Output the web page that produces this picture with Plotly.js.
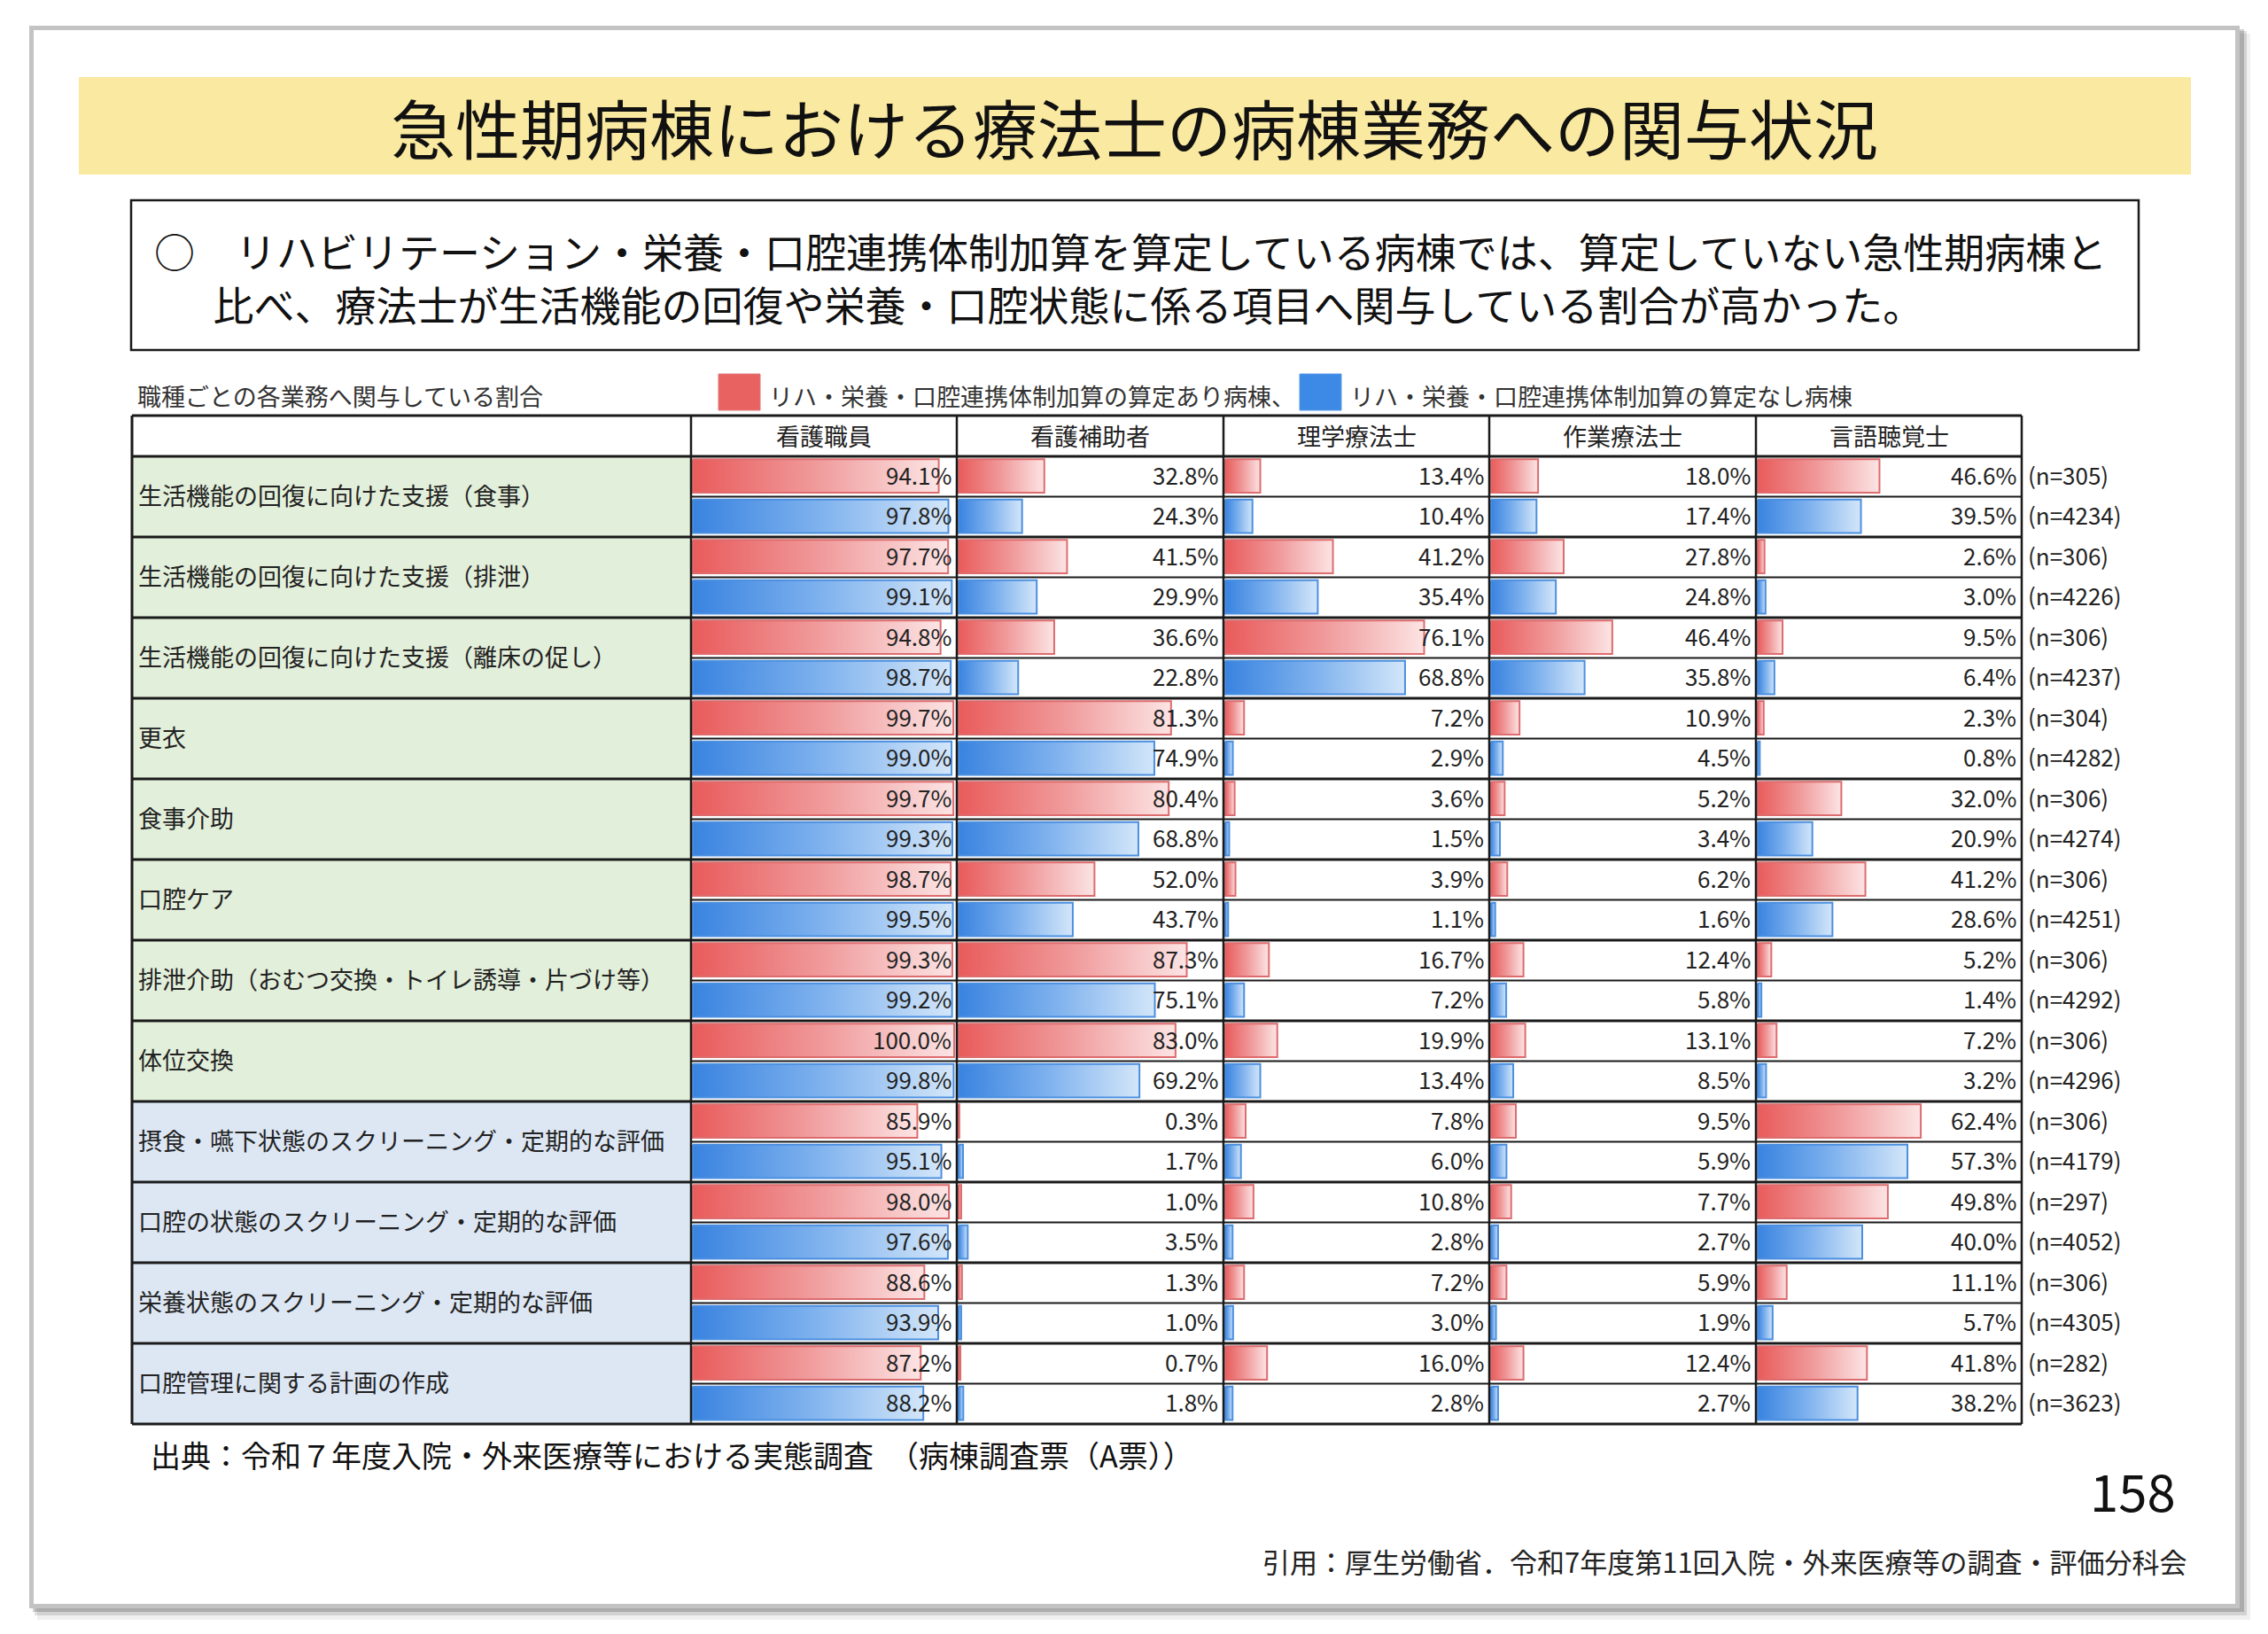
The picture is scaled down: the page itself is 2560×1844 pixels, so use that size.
<!DOCTYPE html>
<html><head><meta charset="utf-8">
<script src="https://cdn.plot.ly/plotly-3.0.1.min.js"></script>
<style>html,body{margin:0;padding:0;background:#fff;}#chart{width:2560px;height:1844px;}</style>
</head><body><div id="chart"></div>
<script>
// ---------------- data ----------------
const tasks = [
  '生活機能の回復に向けた支援（食事）',
  '生活機能の回復に向けた支援（排泄）',
  '生活機能の回復に向けた支援（離床の促し）',
  '更衣',
  '食事介助',
  '口腔ケア',
  '排泄介助（おむつ交換・トイレ誘導・片づけ等）',
  '体位交換',
  '摂食・嚥下状態のスクリーニング・定期的な評価',
  '口腔の状態のスクリーニング・定期的な評価',
  '栄養状態のスクリーニング・定期的な評価',
  '口腔管理に関する計画の作成'
];
const jobs = ['看護職員', '看護補助者', '理学療法士', '作業療法士', '言語聴覚士'];
// 算定あり病棟 (red)
const rateWith = [
  [94.1, 32.8, 13.4, 18.0, 46.6],
  [97.7, 41.5, 41.2, 27.8, 2.6],
  [94.8, 36.6, 76.1, 46.4, 9.5],
  [99.7, 81.3, 7.2, 10.9, 2.3],
  [99.7, 80.4, 3.6, 5.2, 32.0],
  [98.7, 52.0, 3.9, 6.2, 41.2],
  [99.3, 87.3, 16.7, 12.4, 5.2],
  [100.0, 83.0, 19.9, 13.1, 7.2],
  [85.9, 0.3, 7.8, 9.5, 62.4],
  [98.0, 1.0, 10.8, 7.7, 49.8],
  [88.6, 1.3, 7.2, 5.9, 11.1],
  [87.2, 0.7, 16.0, 12.4, 41.8]
];
// 算定なし病棟 (blue)
const rateWithout = [
  [97.8, 24.3, 10.4, 17.4, 39.5],
  [99.1, 29.9, 35.4, 24.8, 3.0],
  [98.7, 22.8, 68.8, 35.8, 6.4],
  [99.0, 74.9, 2.9, 4.5, 0.8],
  [99.3, 68.8, 1.5, 3.4, 20.9],
  [99.5, 43.7, 1.1, 1.6, 28.6],
  [99.2, 75.1, 7.2, 5.8, 1.4],
  [99.8, 69.2, 13.4, 8.5, 3.2],
  [95.1, 1.7, 6.0, 5.9, 57.3],
  [97.6, 3.5, 2.8, 2.7, 40.0],
  [93.9, 1.0, 3.0, 1.9, 5.7],
  [88.2, 1.8, 2.8, 2.7, 38.2]
];
const nWith = [305, 306, 306, 304, 306, 306, 306, 306, 306, 297, 306, 282];
const nWithout = [4234, 4226, 4237, 4282, 4274, 4251, 4292, 4296, 4179, 4052, 4305, 3623];
const seriesNames = ['リハ・栄養・口腔連携体制加算の算定あり病棟、', 'リハ・栄養・口腔連携体制加算の算定なし病棟'];
const titleText = '急性期病棟における療法士の病棟業務への関与状況';
const boxLine1 = '○　リハビリテーション・栄養・口腔連携体制加算を算定している病棟では、算定していない急性期病棟と';
const boxLine2 = '比べ、療法士が生活機能の回復や栄養・口腔状態に係る項目へ関与している割合が高かった。';
const tableCaption = '職種ごとの各業務へ関与している割合';
const sourceText = '出典：令和７年度入院・外来医療等における実態調査　（病棟調査票（A票））';
const pageNo = '158';
const citeText = '引用：厚生労働省．令和7年度第11回入院・外来医療等の調査・評価分科会';

// ---------------- layout helpers ----------------
const W = 2560, H = 1844;
const FONT = '"Noto Sans CJK JP", "Noto Sans", sans-serif';
const px = x => x / W, py = y => 1 - y / H;
const colB = [780, 1080, 1381, 1681, 1982, 2282];
const tLeft = 149, tTop = 469, hdrBot = 515, tBot = 1607;
const PX_PER_PCT = 2.95, BAR_PAD = 2;
const nRows = tasks.length * 2;
const rowH = (tBot - hdrBot) / nRows;

const styles = [
  {line: '#dd6c6e', scale: [[0, '#e95b5b'], [0.5, '#f09a9b'], [1, '#fce4e4']]},
  {line: '#4b8fe0', scale: [[0, '#3983e0'], [0.5, '#7fb2ee'], [1, '#d3e6f9']]}
];

const traces = [];
const annotations = [];
const layout = {
  width: W, height: H,
  margin: {l: 0, r: 0, t: 0, b: 0},
  paper_bgcolor: '#ffffff', plot_bgcolor: 'rgba(0,0,0,0)',
  showlegend: false,
  yaxis: {domain: [py(tBot), py(hdrBot)], range: [nRows, 0], visible: false, fixedrange: true},
  font: {family: FONT, color: '#222'}
};
for (let c = 0; c < jobs.length; c++) {
  const wpx = colB[c + 1] - colB[c];
  layout['xaxis' + (c === 0 ? '' : c + 1)] = {
    domain: [px(colB[c]), px(colB[c + 1])],
    range: [-BAR_PAD / PX_PER_PCT, (wpx - BAR_PAD) / PX_PER_PCT],
    anchor: 'y', visible: false, fixedrange: true
  };
}

// ---------------- bars ----------------
tasks.forEach((t, g) => {
  [rateWith[g], rateWithout[g]].forEach((vals, s) => {
    const k = 2 * g + s;
    const y0 = k + 0.07, y1 = k + 0.9;
    vals.forEach((v, c) => {
      traces.push({
        type: 'scatter', mode: 'lines',
        xaxis: 'x' + (c === 0 ? '' : c + 1), yaxis: 'y',
        x: [0, v, v, 0, 0], y: [y0, y0, y1, y1, y0],
        fill: 'toself',
        fillgradient: {type: 'horizontal', colorscale: styles[s].scale},
        line: {color: styles[s].line, width: 2},
        hoverinfo: 'skip'
      });
      annotations.push({
        xref: 'paper', yref: 'y', x: px(colB[c + 1] - 4), y: k + 0.44,
        xanchor: 'right', yanchor: 'middle', showarrow: false,
        text: v.toFixed(1) + '%', font: {size: 26, color: '#222', family: FONT}
      });
    });
    annotations.push({
      xref: 'paper', yref: 'y', x: px(colB[5] + 5), y: k + 0.44,
      xanchor: 'left', yanchor: 'middle', showarrow: false,
      text: '(n=' + (s === 0 ? nWith[g] : nWithout[g]) + ')',
      font: {size: 26, color: '#222', family: FONT}
    });
  });
  annotations.push({
    xref: 'paper', yref: 'y', x: px(tLeft + 5), y: 2 * g + 0.95,
    xanchor: 'left', yanchor: 'middle', showarrow: false,
    text: t, font: {size: 27, color: '#222', family: FONT}
  });
});

// header
jobs.forEach((j, c) => {
  annotations.push({
    xref: 'paper', yref: 'paper', x: px((colB[c] + colB[c + 1]) / 2), y: py((tTop + hdrBot) / 2),
    xanchor: 'center', yanchor: 'middle', showarrow: false,
    text: j, font: {size: 27, color: '#222', family: FONT}
  });
});

// ---------------- shapes ----------------
const shapes = [];
const rect = (x0, y0, x1, y1, fill, line, lw, layer) => shapes.push({
  type: 'rect', xref: 'paper', yref: 'paper',
  x0: px(x0), x1: px(x1), y0: py(y1), y1: py(y0),
  fillcolor: fill, line: {color: line || 'rgba(0,0,0,0)', width: lw || 0}, layer: layer || 'below'
});
const hline = (x0, x1, y, lw, color) => shapes.push({
  type: 'line', xref: 'paper', yref: 'paper', x0: px(x0), x1: px(x1), y0: py(y), y1: py(y),
  line: {color: color || '#1a1a1a', width: lw}, layer: 'above'
});
const vline = (x, y0, y1, lw, color) => shapes.push({
  type: 'line', xref: 'paper', yref: 'paper', x0: px(x), x1: px(x), y0: py(y0), y1: py(y1),
  line: {color: color || '#1a1a1a', width: lw}, layer: 'above'
});

// slide frame with shadow
rect(42, 38, 2540, 1828, 'rgba(0,0,0,0.06)');
rect(39, 35, 2536, 1823, 'rgba(0,0,0,0.12)');
rect(37, 33, 2533, 1819, 'rgba(0,0,0,0.18)');
rect(35.5, 31.5, 2525.5, 1812.5, '#ffffff', '#c3c3c3', 5);
// title band
rect(89, 87, 2473, 197, '#fae9a0');
// summary box
rect(148, 226, 2414, 395, '#ffffff', '#1a1a1a', 2.5);
// legend squares
rect(811, 422, 858, 463, '#e96262', '#e07a7a', 1);
rect(1467, 422, 1514, 463, '#3c8ae6', '#5a9be6', 1);
// table backgrounds
rect(tLeft, tTop, colB[5], tBot, '#ffffff');
tasks.forEach((t, g) => {
  const y0 = hdrBot + 2 * g * rowH, y1 = y0 + 2 * rowH;
  rect(tLeft, y0, colB[0], y1, g < 8 ? '#e2efda' : '#dde7f4');
});
// table lines
hline(tLeft, colB[5], tTop, 3);
hline(tLeft, colB[5], hdrBot, 3);
for (let g = 1; g <= tasks.length; g++) hline(tLeft, colB[5], hdrBot + 2 * g * rowH, 3);
for (let g = 0; g < tasks.length; g++) hline(colB[0], colB[5], hdrBot + (2 * g + 1) * rowH, 2);
vline(tLeft, tTop, tBot, 3);
colB.forEach(x => vline(x, tTop, tBot, 2.5));

layout.shapes = shapes;

// ---------------- texts ----------------
annotations.push(
  {xref: 'paper', yref: 'paper', x: 0.5, y: py(142), xanchor: 'center', yanchor: 'middle', showarrow: false,
   text: titleText, font: {size: 73, color: '#111', family: FONT}},
  {xref: 'paper', yref: 'paper', x: px(172), y: py(312), xanchor: 'left', yanchor: 'middle', showarrow: false,
   align: 'left',
   text: boxLine1 + '<br>　\u00a0\u00a0' + boxLine2, font: {size: 46, color: '#111', family: FONT}},
  {xref: 'paper', yref: 'paper', x: px(153), y: py(446), xanchor: 'left', yanchor: 'middle', showarrow: false,
   text: tableCaption, font: {size: 27, color: '#333', family: FONT}},
  {xref: 'paper', yref: 'paper', x: px(866), y: py(446), xanchor: 'left', yanchor: 'middle', showarrow: false,
   text: seriesNames[0], font: {size: 27, color: '#333', family: FONT}},
  {xref: 'paper', yref: 'paper', x: px(1522), y: py(446), xanchor: 'left', yanchor: 'middle', showarrow: false,
   text: seriesNames[1], font: {size: 27, color: '#333', family: FONT}},
  {xref: 'paper', yref: 'paper', x: px(168), y: py(1641), xanchor: 'left', yanchor: 'middle', showarrow: false,
   text: sourceText, font: {size: 34, color: '#111', family: FONT}},
  {xref: 'paper', yref: 'paper', x: px(2458), y: py(1681), xanchor: 'right', yanchor: 'middle', showarrow: false,
   text: pageNo, font: {size: 58, color: '#111', family: FONT}},
  {xref: 'paper', yref: 'paper', x: px(2471), y: py(1761), xanchor: 'right', yanchor: 'middle', showarrow: false,
   text: citeText, font: {size: 31, color: '#222', family: FONT}}
);
layout.annotations = annotations;

Plotly.newPlot('chart', traces, layout, {staticPlot: true, displayModeBar: false});
</script>
</body></html>
